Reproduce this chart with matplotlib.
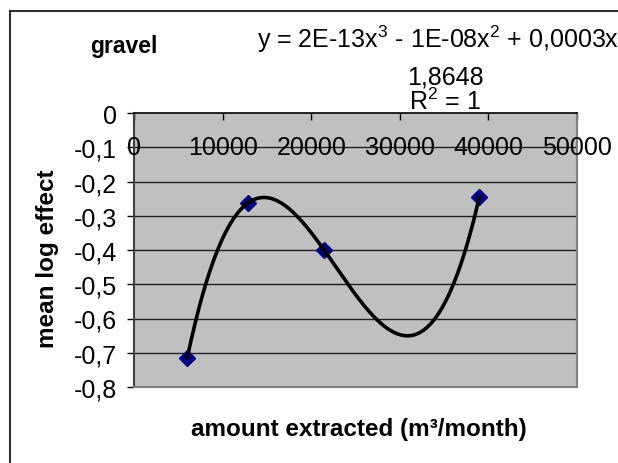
import numpy as np
import matplotlib
matplotlib.use("Agg")
import matplotlib.pyplot as plt
from matplotlib.lines import Line2D

# ---- data ----
amount = [6020, 12900, 21480, 38970]
log_effect = [-0.714, -0.262, -0.401, -0.246]
x_ticks = [0, 10000, 20000, 30000, 40000, 50000]
y_ticks = [0, -0.1, -0.2, -0.3, -0.4, -0.5, -0.6, -0.7, -0.8]
title = "gravel"
eq_lines = [r"y = 2E-13x$^3$ - 1E-08x$^2$ + 0,0003x -", "1,8648", r"R$^2$ = 1"]
x_label = "amount extracted (m³/month)"
y_label = "mean log effect"

plt.rcParams['font.family'] = ['Liberation Sans', 'DejaVu Sans']
plt.rcParams['mathtext.fontset'] = 'custom'
plt.rcParams['mathtext.rm'] = 'Liberation Sans'
plt.rcParams['mathtext.default'] = 'regular'

W, H = 618, 464
fig = plt.figure(figsize=(W / 100, H / 100), dpi=100)

def fx(px):
    return px / W

def fy(py):
    return 1 - py / H

L, R, T, B = 134, 577, 114, 388
ax = fig.add_axes([fx(L), fy(B), fx(R) - fx(L), fy(T) - fy(B)])
ax.set_facecolor('#C0C0C0')
ax.set_xlim(0, 50000)
ax.set_ylim(-0.8, 0)

FS = 18

# gridlines
for v in y_ticks[1:-1]:
    ax.axhline(v, color='#202020', lw=1.0, zorder=1)

# spines
ax.spines['top'].set_color('black')
ax.spines['top'].set_linewidth(1.2)
ax.spines['left'].set_color('#404040')
ax.spines['left'].set_linewidth(1.5)
ax.spines['right'].set_color('#808080')
ax.spines['right'].set_linewidth(1.5)
ax.spines['bottom'].set_color('#808080')
ax.spines['bottom'].set_linewidth(1.5)

# x ticks on top (axis at y=0), pointing inward
ax.xaxis.set_ticks_position('top')
ax.set_xticks(x_ticks)
ax.tick_params(axis='x', direction='in', length=5, width=1, color='black',
               labeltop=False, labelbottom=False)
for v in x_ticks:
    ax.text(v, -0.1, f"{v}", ha='center', va='center', fontsize=FS,
            color='black', zorder=3, clip_on=False)

ax.set_yticks(y_ticks)
ax.set_yticklabels(["0" if v == 0 else f"{v:.1f}".replace('.', ',') for v in y_ticks])
ax.tick_params(axis='y', direction='out', length=5, width=1, color='black',
               pad=7, labelsize=FS)

# cubic trendline through points
coef = np.polyfit(amount, log_effect, 3)
xs = np.linspace(min(amount), max(amount), 300)
ax.plot(xs, np.polyval(coef, xs), color='black', lw=2.6, zorder=5)
ax.plot(amount, log_effect, linestyle='none', marker='D', ms=8.5,
        color='#000080', zorder=4)

# texts
fig.text(fx(124), fy(53), title, ha='center', va='baseline', fontsize=16.5,
         fontweight='bold')
bases = [48, 85, 110]
for line, b in zip(eq_lines, bases):
    fig.text(fx(445), fy(b), line, ha='center', va='baseline', fontsize=FS)

fig.text(fx(359), fy(430), x_label, ha='center', va='center', fontsize=17.5,
         fontweight='bold')
fig.text(fx(48), fy(259), y_label, ha='center', va='center', fontsize=17.5,
         fontweight='bold', rotation=90)

# chart-area border
fig.add_artist(Line2D([fx(10), fx(10)], [fy(12), 0], color='#303030', lw=1.5,
                      transform=fig.transFigure))
fig.add_artist(Line2D([fx(10), 1], [fy(12), fy(12)], color='#303030', lw=1.5,
                      transform=fig.transFigure))

fig.savefig('out.png', dpi=100)
